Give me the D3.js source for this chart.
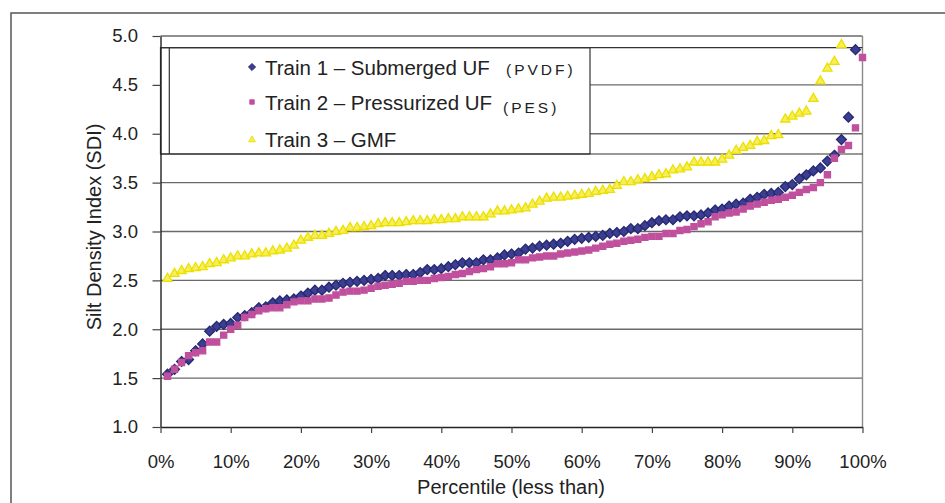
<!DOCTYPE html>
<html>
<head>
<meta charset="utf-8">
<script src="https://cdn.jsdelivr.net/npm/d3@7"></script>
<style>
  html, body { margin: 0; padding: 0; background: #fff; }
  svg { display: block; font-family: "Liberation Sans", Arial, sans-serif; }
</style>
</head>
<body>
<svg id="chart" width="945" height="503"></svg>
<script>
// ---- Data (percentile = index + 1) ----
const seriesNames = ["Train 1 \u2013 Submerged UF", "Train 2 \u2013 Pressurized UF", "Train 3 \u2013 GMF"];
const seriesNotes = ["(PVDF)", "(PES)", ""];

const train1 = [
  1.54,1.59,1.67,1.69,1.78,1.85,1.98,2.03,2.05,2.06,2.12,2.14,2.17,2.22,2.23,2.27,2.29,2.30,2.31,2.34,2.37,2.40,2.40,2.43,2.45,
  2.47,2.48,2.49,2.50,2.51,2.52,2.55,2.55,2.55,2.56,2.56,2.58,2.61,2.61,2.62,2.64,2.66,2.68,2.68,2.68,2.71,2.71,2.73,2.76,2.77,
  2.78,2.82,2.83,2.85,2.86,2.87,2.88,2.90,2.92,2.93,2.94,2.95,2.96,2.98,2.99,3.00,3.03,3.03,3.06,3.09,3.11,3.12,3.12,3.15,3.16,
  3.16,3.17,3.19,3.22,3.23,3.26,3.28,3.29,3.33,3.35,3.38,3.39,3.40,3.46,3.48,3.54,3.58,3.62,3.65,3.72,3.78,3.94,4.17,4.86
];
const train2 = [
  1.52,1.59,1.66,1.73,1.76,1.78,1.87,1.87,1.94,2.00,2.04,2.12,2.15,2.19,2.21,2.22,2.22,2.25,2.28,2.29,2.29,2.31,2.31,2.32,2.35,
  2.38,2.39,2.39,2.40,2.42,2.44,2.45,2.46,2.47,2.49,2.49,2.50,2.50,2.52,2.53,2.54,2.56,2.57,2.59,2.61,2.62,2.64,2.67,2.67,2.68,
  2.71,2.71,2.73,2.74,2.75,2.75,2.77,2.78,2.79,2.80,2.81,2.83,2.85,2.87,2.88,2.90,2.91,2.92,2.94,2.95,2.95,2.98,2.98,3.01,3.02,
  3.05,3.08,3.10,3.15,3.17,3.19,3.20,3.23,3.26,3.28,3.30,3.32,3.33,3.35,3.37,3.40,3.43,3.45,3.50,3.58,3.75,3.84,3.88,4.06,4.78
];
const train3 = [
  2.53,2.58,2.61,2.63,2.64,2.65,2.68,2.69,2.72,2.74,2.76,2.76,2.78,2.79,2.79,2.81,2.82,2.84,2.87,2.92,2.95,2.97,2.97,2.99,3.01,
  3.02,3.05,3.05,3.06,3.07,3.09,3.10,3.10,3.10,3.11,3.12,3.12,3.12,3.13,3.13,3.14,3.14,3.16,3.16,3.16,3.16,3.19,3.22,3.22,3.23,
  3.24,3.25,3.29,3.32,3.35,3.36,3.36,3.37,3.38,3.39,3.40,3.42,3.43,3.44,3.48,3.52,3.52,3.54,3.55,3.57,3.59,3.60,3.64,3.65,3.67,
  3.72,3.72,3.72,3.72,3.75,3.79,3.84,3.87,3.89,3.93,3.94,3.99,4.00,4.16,4.19,4.22,4.24,4.37,4.55,4.68,4.75,4.92
];

const yTicks = [1.0,1.5,2.0,2.5,3.0,3.5,4.0,4.5,5.0];
const xTicks = [0,10,20,30,40,50,60,70,80,90,100];
const yTitle = "Silt Density Index (SDI)";
const xTitle = "Percentile (less than)";

// ---- Drawing ----
const svg = d3.select("#chart");
const x = d3.scaleLinear().domain([0, 100]).range([160.5, 862.5]);
const y = d3.scaleLinear().domain([1, 5]).range([427, 36]);

// outer frame
svg.append("rect").attr("x", 11).attr("y", 13).attr("width", 1000).attr("height", 600)
  .attr("fill", "none").attr("stroke", "#555").attr("stroke-width", 1.5);

// gridlines
svg.append("g").selectAll("line").data(yTicks.filter(d => d > 1)).join("line")
  .attr("x1", x(0)).attr("x2", x(100))
  .attr("y1", d => y(d)).attr("y2", d => y(d))
  .attr("stroke", "#6a6a6a").attr("stroke-width", 1.4);

// plot right border
svg.append("line").attr("x1", x(100)).attr("x2", x(100)).attr("y1", y(5)).attr("y2", y(1))
  .attr("stroke", "#8a8a8a").attr("stroke-width", 1.4);

// legend strip
const lgTop = 47.7, lgBot = 154;
svg.append("rect").attr("x", x(0)).attr("y", lgTop).attr("width", 590 - x(0)).attr("height", lgBot - lgTop)
  .attr("fill", "#fff").attr("stroke", "#333").attr("stroke-width", 1.2);
svg.append("line").attr("x1", 169.3).attr("x2", 169.3).attr("y1", lgTop).attr("y2", lgBot)
  .attr("stroke", "#333").attr("stroke-width", 1.2);
[lgTop, lgBot].forEach(v => {
  svg.append("line").attr("x1", x(0)).attr("x2", x(100)).attr("y1", v).attr("y2", v)
    .attr("stroke", "#333").attr("stroke-width", 1.2);
});

// axes
const yAxis = d3.axisLeft(y).tickValues(yTicks).tickFormat(d3.format(".1f"))
  .tickSize(8).tickSizeOuter(0).tickPadding(14.5);
const gy = svg.append("g").attr("transform", `translate(${x(0)},0)`).call(yAxis);
gy.select(".domain").attr("stroke", "#222").attr("stroke-width", 1.4);
gy.selectAll(".tick line").attr("stroke", "#444").attr("stroke-width", 1.2);
gy.selectAll(".tick text").attr("font-size", "18.5px").attr("fill", "#222")
  .attr("font-family", "Liberation Sans, Arial, sans-serif");

const xAxis = d3.axisBottom(x).tickValues(xTicks).tickFormat(d => d + "%")
  .tickSize(6).tickSizeOuter(0).tickPadding(22);
const gx = svg.append("g").attr("transform", `translate(0,${y(1)})`).call(xAxis);
gx.select(".domain").attr("stroke", "#222").attr("stroke-width", 1.4);
gx.selectAll(".tick line").attr("stroke", "#444").attr("stroke-width", 1.2);
gx.selectAll(".tick text").attr("font-size", "18.5px").attr("fill", "#222")
  .attr("font-family", "Liberation Sans, Arial, sans-serif");

// axis titles
svg.append("text").attr("x", 511).attr("y", 494).attr("text-anchor", "middle")
  .attr("font-size", "20px").attr("fill", "#222").text(xTitle);
svg.append("text").attr("transform", "translate(101,227) rotate(-90)").attr("text-anchor", "middle")
  .attr("font-size", "20px").attr("fill", "#222").text(yTitle);

// markers
const styles = [
  { sym: d3.symbolDiamond2, size: 62, fill: "#3b3e92", stroke: "#26296f" },
  { sym: d3.symbolSquare2, size: 48, fill: "#c0509e", stroke: "#c0509e" },
  { sym: d3.symbolTriangle2, size: 62, fill: "#f7ee5a", stroke: "#ece000" }
];
const seriesData = [train1, train2, train3];

function drawMarker(g, i, cx, cy, scale) {
  const s = styles[i];
  const yOff = i === 2 ? 1.2 * scale : 0;
  g.append("path").attr("d", d3.symbol().type(s.sym).size(s.size * scale * scale)())
    .attr("transform", `translate(${cx},${cy + yOff})`)
    .attr("fill", s.fill).attr("stroke", s.stroke).attr("stroke-width", 1.3 * scale);
}

// draw series order: train3 (back), train1, train2
[2, 0, 1].forEach(i => {
  const g = svg.append("g");
  seriesData[i].forEach((v, k) => drawMarker(g, i, x(k + 1), y(v), 1));
});

// legend entries
const lg = svg.append("g");
const lgY = [67, 102, 139];
seriesNames.forEach((name, i) => {
  drawMarker(lg, i, 252, lgY[i], 0.72);
  lg.append("text").attr("x", 265).attr("y", lgY[i] + 8)
    .attr("font-size", "20.5px").attr("fill", "#222").text(name);
});
lg.append("text").attr("x", 506).attr("y", lgY[0] + 8).attr("font-size", "15.5px")
  .attr("letter-spacing", "3px").attr("fill", "#222").text(seriesNotes[0]);
lg.append("text").attr("x", 503).attr("y", lgY[1] + 11).attr("font-size", "15.5px")
  .attr("letter-spacing", "3px").attr("fill", "#222").text(seriesNotes[1]);
</script>
</body>
</html>
